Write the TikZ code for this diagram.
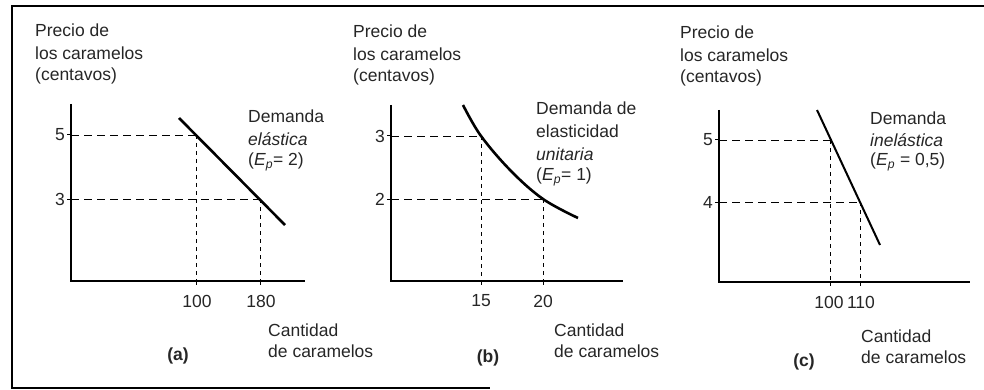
\documentclass[tikz,border=0pt]{standalone}
\usepackage{fontspec}
\setmainfont{Liberation Sans}
\begin{document}
\begin{tikzpicture}[x=1pt,y=-1pt,
  lbl/.style={font=\fontsize{17.5}{20}\selectfont, inner sep=0pt, text=black!85},
  lblL/.style={lbl, anchor=west},
  axisline/.style={line width=1.4pt},
  tickline/.style={line width=1pt},
  guide/.style={line width=0.8pt, dash pattern=on 8pt off 5pt},
  vguide/.style={line width=0.8pt, dash pattern=on 4pt off 4pt},
  frameline/.style={line width=1.2pt},
  demand/.style={line width=2.6pt}]
\useasboundingbox (0,0) rectangle (984,390);
% frame
\coordinate (f1) at (984,6);
\coordinate (f2) at (12,6);
\coordinate (f3) at (12,388);
\coordinate (f4) at (490,388);
\draw[frameline] (f1) -- (f2) -- (f3) -- (f4);

% ---------------- panel (a)
\node[lblL] (at1) at (35,30) {Precio de};
\node[lblL] (at2) at (35,53) {los caramelos};
\node[lblL] (at3) at (35,76) {(centavos)};
\coordinate (aO) at (71,281);
\coordinate (aY) at (71,104);
\coordinate (aX) at (305,281);
\draw[axisline] (aY) -- (aO) -- (aX);
\coordinate (aD1) at (179,118);
\coordinate (aD2) at (285,225);
\coordinate (aP5) at (196,135);
\coordinate (aP3) at (260,199);
\coordinate (aT5) at (71,135);
\coordinate (aT3) at (71,199);
\coordinate (aQ1) at (196,281);
\coordinate (aQ2) at (260,281);
\draw[guide] (aT5) -- (aP5);
\draw[guide] (aT3) -- (aP3);
\draw[vguide] (aP5) -- (aQ1);
\draw[vguide] (aP3) -- (aQ2);
\draw[tickline] (aT5) -- ++(-4,0) (aT3) -- ++(-4,0) (aQ1) -- ++(0,4) (aQ2) -- ++(0,4);
\draw[demand] (aD1) -- (aD2);
\node[lbl, anchor=east] (a5) at (65,135) {5};
\node[lbl, anchor=east] (a3) at (65,199) {3};
\node[lbl] (a100) at (197,301) {100};
\node[lbl] (a180) at (261,301) {180};
\node[lblL] (ad1) at (248,116) {Demanda};
\node[lblL] (ad2) at (248,139) {\itshape elástica};
\node[lblL] (ad3) at (248,162) {(\textit{E}\textsubscript{\textit{p}}= 2)};
\node[lblL] (ac1) at (268,330) {Cantidad};
\node[lblL] (ac2) at (268,351) {de caramelos};
\node[lbl, font=\fontsize{17.5}{20}\selectfont\bfseries] (alab) at (178,356) {(a)};

% ---------------- panel (b)
\node[lblL] (bt1) at (353,31) {Precio de};
\node[lblL] (bt2) at (353,54) {los caramelos};
\node[lblL] (bt3) at (353,77) {(centavos)};
\coordinate (bO) at (391,281);
\coordinate (bY) at (391,105);
\coordinate (bX) at (623,281);
\draw[axisline] (bY) -- (bO) -- (bX);
\coordinate (bP3) at (481,136);
\coordinate (bP2) at (543,199);
\coordinate (bT3) at (391,136);
\coordinate (bT2) at (391,199);
\coordinate (bQ1) at (481,281);
\coordinate (bQ2) at (543,281);
\draw[guide] (bT3) -- (bP3);
\draw[guide] (bT2) -- (bP2);
\draw[vguide] (bP3) -- (bQ1);
\draw[vguide] (bP2) -- (bQ2);
\draw[tickline] (bT3) -- ++(-4,0) (bT2) -- ++(-4,0) (bQ1) -- ++(0,4) (bQ2) -- ++(0,4);
\draw[demand] plot[smooth, tension=0.6] coordinates {(463,105) (481,136) (511,171) (543,199) (578,218)};
\node[lbl, anchor=east] (b3) at (385,136) {3};
\node[lbl, anchor=east] (b2) at (385,199) {2};
\node[lbl] (b15) at (481,301) {15};
\node[lbl] (b20) at (543,301) {20};
\node[lblL] (bd1) at (536,108) {Demanda de};
\node[lblL] (bd2) at (536,131) {elasticidad};
\node[lblL] (bd3) at (536,154) {\itshape unitaria};
\node[lblL] (bd4) at (536,177) {(\textit{E}\textsubscript{\textit{p}}= 1)};
\node[lblL] (bc1) at (554,330) {Cantidad};
\node[lblL] (bc2) at (554,351) {de caramelos};
\node[lbl, font=\fontsize{17.5}{20}\selectfont\bfseries] (blab) at (488,358) {(b)};

% ---------------- panel (c)
\node[lblL] (ct1) at (680,32) {Precio de};
\node[lblL] (ct2) at (680,55) {los caramelos};
\node[lblL] (ct3) at (680,78) {(centavos)};
\coordinate (cO) at (719,282);
\coordinate (cY) at (719,110);
\coordinate (cX) at (970,282);
\draw[axisline] (cY) -- (cO) -- (cX);
\coordinate (cD1) at (817,110);
\coordinate (cD2) at (880,245);
\coordinate (cP5) at (830,140);
\coordinate (cP4) at (860,202);
\coordinate (cT5) at (719,140);
\coordinate (cT4) at (719,202);
\coordinate (cQ1) at (830,282);
\coordinate (cQ2) at (860,282);
\draw[guide] (cT5) -- (cP5);
\draw[guide] (cT4) -- (cP4);
\draw[vguide] (cP5) -- (cQ1);
\draw[vguide] (cP4) -- (cQ2);
\draw[tickline] (cT5) -- ++(-4,0) (cT4) -- ++(-4,0) (cQ1) -- ++(0,4) (cQ2) -- ++(0,4);
\draw[demand, line width=2pt] (cD1) -- (cD2);
\node[lbl, anchor=east] (c5) at (713,140) {5};
\node[lbl, anchor=east] (c4) at (713,202) {4};
\node[lbl] (c100) at (829,302) {100};
\node[lbl] (c110) at (861,302) {110};
\node[lblL] (cd1) at (870,118) {Demanda};
\node[lblL] (cd2) at (870,140) {\itshape inelástica};
\node[lblL] (cd3) at (870,162) {(\textit{E}\textsubscript{\textit{p}} = 0,5)};
\node[lblL] (cc1) at (861,336) {Cantidad};
\node[lblL] (cc2) at (861,357) {de caramelos};
\node[lbl, font=\fontsize{17.5}{20}\selectfont\bfseries] (clab) at (804,362) {(c)};
\end{tikzpicture}
\end{document}
